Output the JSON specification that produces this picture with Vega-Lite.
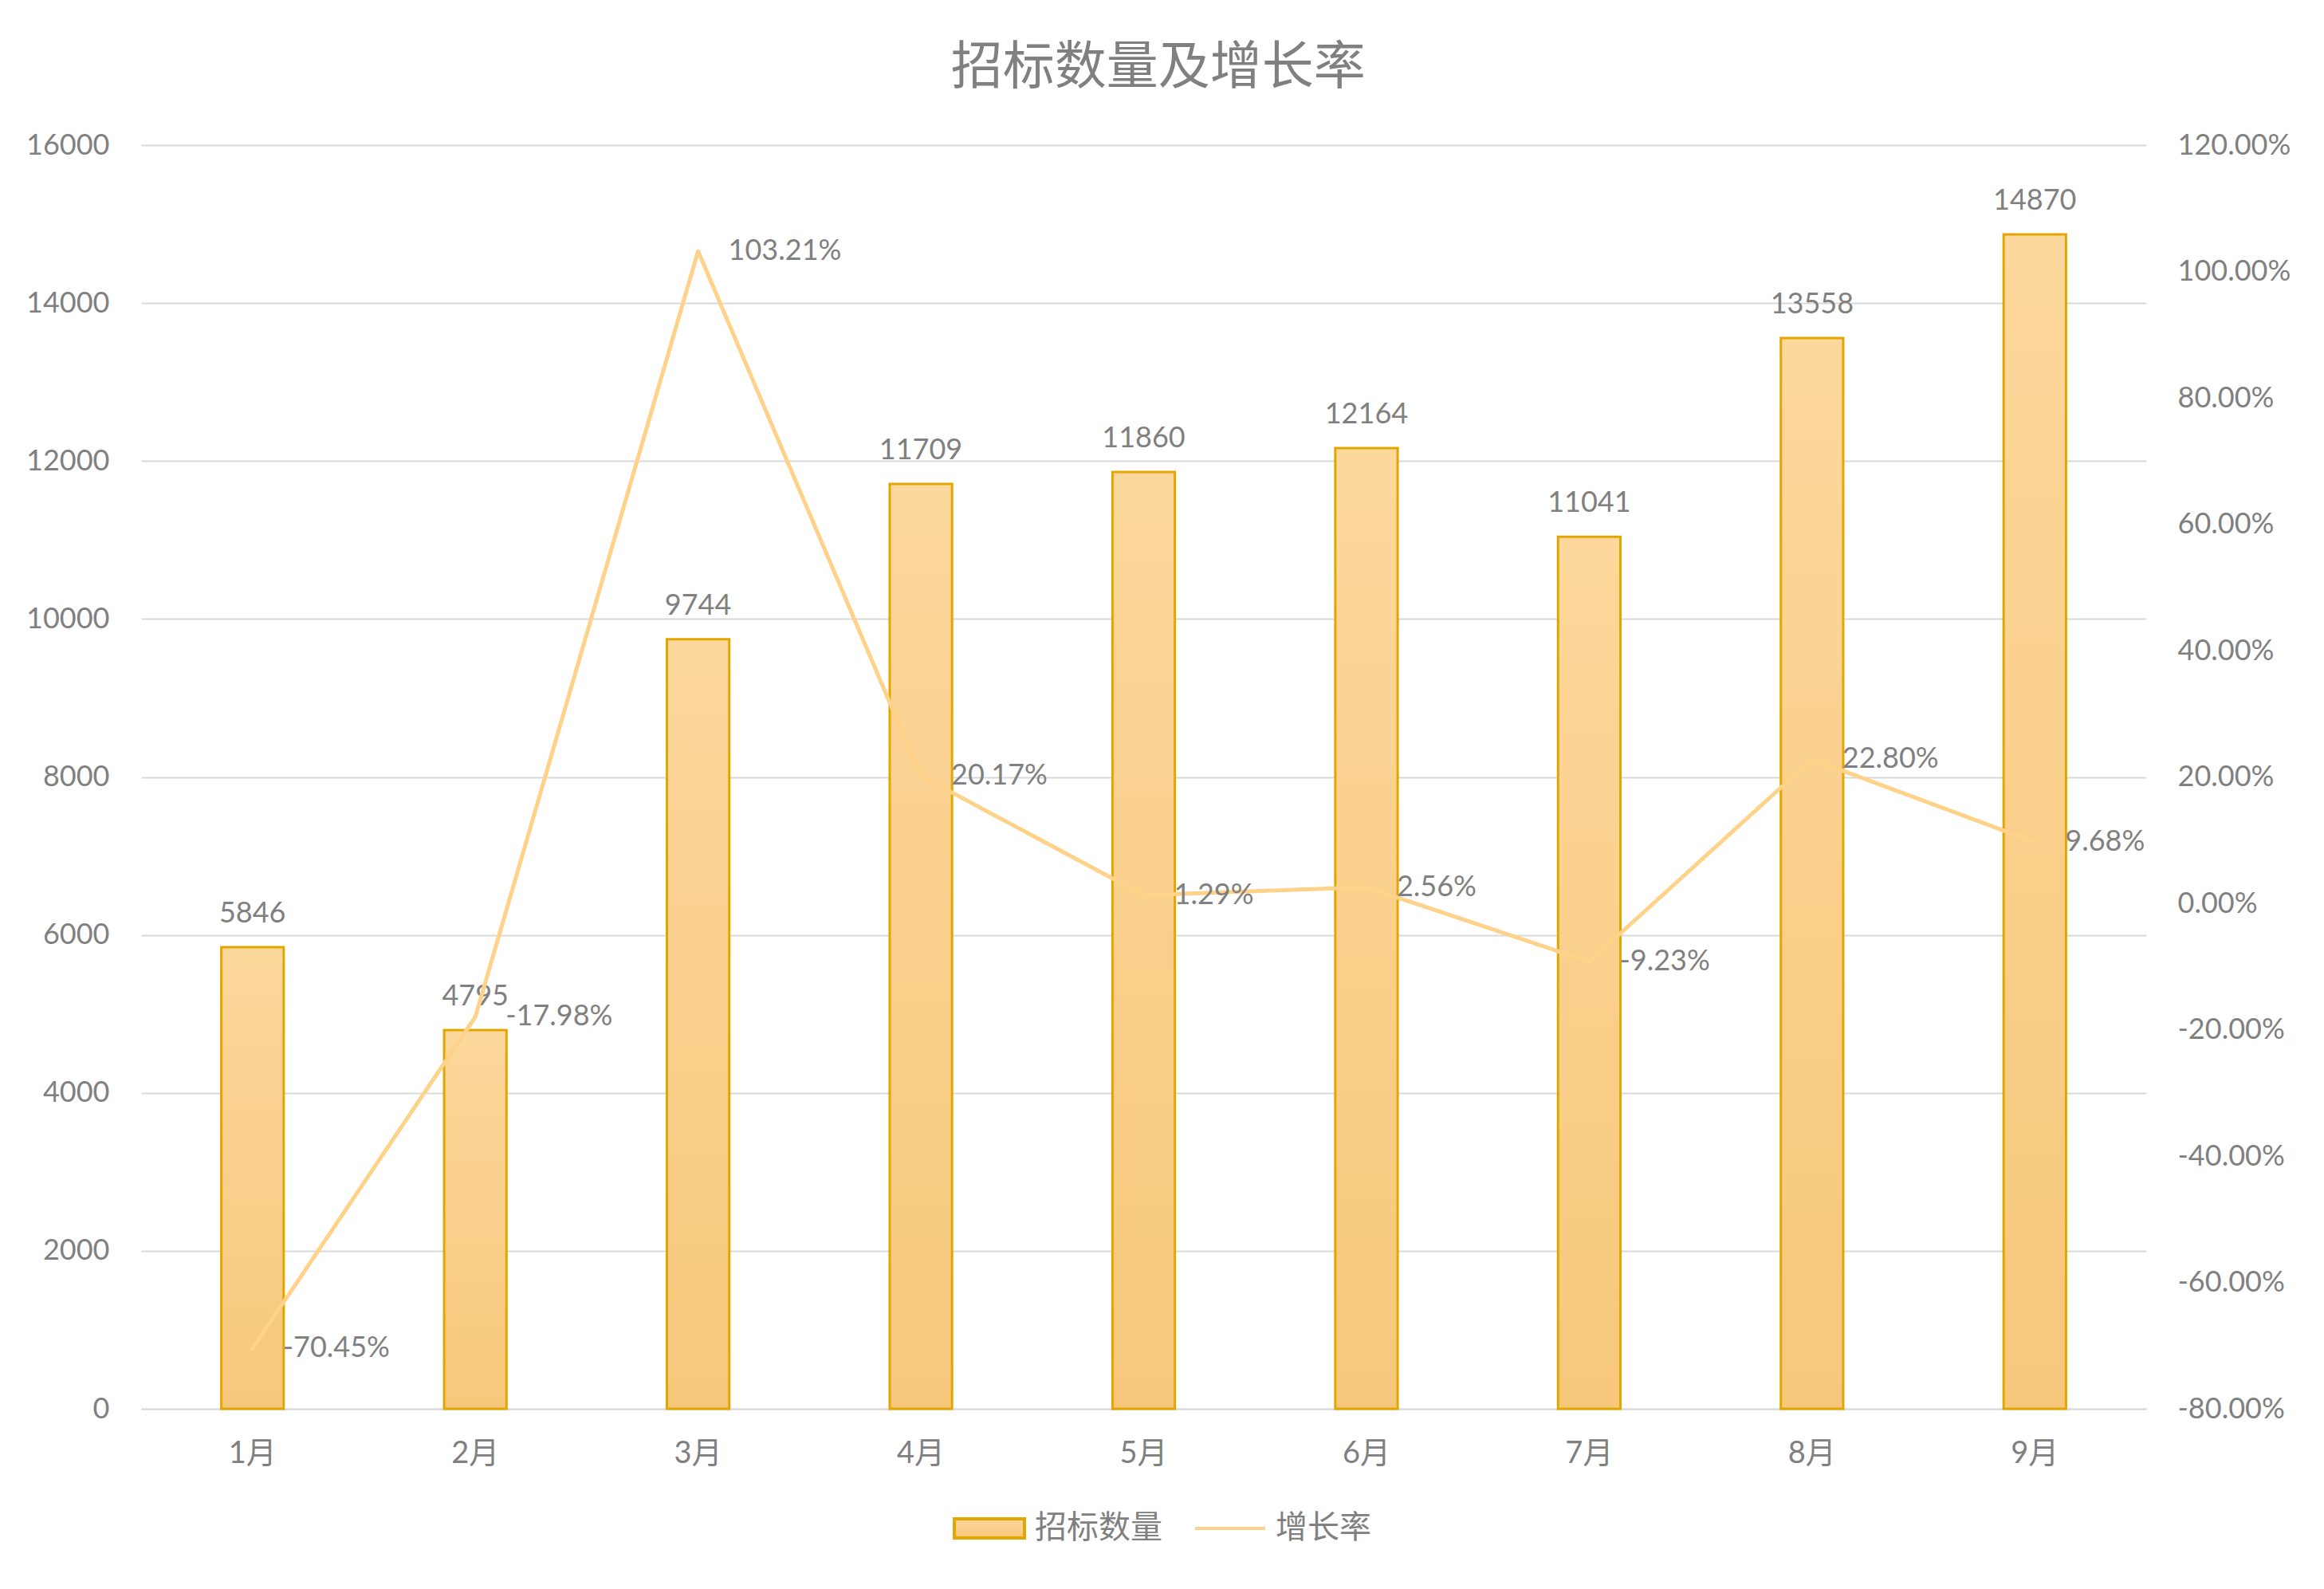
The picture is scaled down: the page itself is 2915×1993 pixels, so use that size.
{
  "$schema": "https://vega.github.io/schema/vega-lite/v6.json",
  "width": 2515,
  "height": 1585,
  "autosize": {"type": "none"},
  "padding": {"left": 177, "top": 182, "right": 223, "bottom": 226},
  "background": "white",
  "title": {
    "text": "招标数量及增长率",
    "fontSize": 65,
    "font": "Noto Sans CJK SC",
    "fontWeight": "normal",
    "color": "#808080",
    "offset": 45,
    "anchor": "middle",
    "frame": "bounds"
  },
  "config": {
    "view": {"stroke": null},
    "font": "Lato",
    "locale": {
      "number": {"decimal": ".", "thousands": ",", "grouping": [3], "currency": ["$", ""], "minus": "-"}
    }
  },
  "data": {
    "values": [
      {"month": "1月", "count": 5846, "rate": -0.7045},
      {"month": "2月", "count": 4795, "rate": -0.1798},
      {"month": "3月", "count": 9744, "rate": 1.0321},
      {"month": "4月", "count": 11709, "rate": 0.2017},
      {"month": "5月", "count": 11860, "rate": 0.0129},
      {"month": "6月", "count": 12164, "rate": 0.0256},
      {"month": "7月", "count": 11041, "rate": -0.0923},
      {"month": "8月", "count": 13558, "rate": 0.228},
      {"month": "9月", "count": 14870, "rate": 0.0968}
    ]
  },
  "encoding": {
    "x": {
      "field": "month",
      "type": "ordinal",
      "sort": null,
      "scale": {"paddingInner": 0.72, "paddingOuter": 0.36},
      "axis": {
        "title": null,
        "labelAngle": 0,
        "labelFont": "Lato, Noto Sans CJK SC",
        "labelFontSize": 38,
        "labelColor": "#808080",
        "labelPadding": 37,
        "ticks": false,
        "domain": true,
        "domainColor": "#D9D9D9",
        "domainWidth": 2
      }
    }
  },
  "layer": [
    {
      "encoding": {
        "y": {
          "field": "count",
          "type": "quantitative",
          "scale": {"domain": [0, 16000], "nice": false},
          "axis": {
            "title": null,
            "values": [0, 2000, 4000, 6000, 8000, 10000, 12000, 14000, 16000],
            "format": "d",
            "grid": true,
            "gridColor": "#D9D9D9",
            "gridWidth": 2,
            "domain": false,
            "ticks": false,
            "labelPadding": 40,
            "labelFontSize": 36,
            "labelColor": "#808080"
          }
        }
      },
      "layer": [
        {
          "mark": {
            "type": "bar",
            "fill": {
              "gradient": "linear",
              "x1": 0, "y1": 0, "x2": 0, "y2": 1,
              "stops": [
                {"offset": 0, "color": "#FDD89C"},
                {"offset": 1, "color": "#F6C77B"}
              ]
            },
            "strokeWidth": 3
          },
          "encoding": {
            "stroke": {
              "datum": "招标数量",
              "type": "nominal",
              "scale": {"domain": ["招标数量", "增长率"], "range": ["#E3A600", "#FFD28A"]},
              "legend": {
                "orient": "none",
                "legendX": 1018,
                "legendY": 1689,
                "direction": "horizontal",
                "title": null,
                "labelFont": "Noto Sans CJK SC",
                "labelFontSize": 40,
                "labelColor": "#808080",
                "symbolSize": 7744,
                "columnPadding": 33,
                "labelOffset": 11,
                "symbolStrokeWidth": 4,
                "symbolType": {"expr": "datum.value === '招标数量' ? 'M-1,-0.27H1V0.27H-1Z' : 'M-1,0H1'"}
              }
            }
          }
        },
        {
          "mark": {"type": "text", "baseline": "middle", "align": "center", "dy": -42, "fontSize": 36, "color": "#808080"},
          "encoding": {
            "text": {"field": "count", "type": "quantitative", "format": "d"}
          }
        }
      ]
    },
    {
      "encoding": {
        "y": {
          "field": "rate",
          "type": "quantitative",
          "scale": {"domain": [-0.8, 1.2], "nice": false},
          "axis": {
            "orient": "right",
            "title": null,
            "values": [-0.8, -0.6, -0.4, -0.2, 0, 0.2, 0.4, 0.6, 0.8, 1, 1.2],
            "format": ".2%",
            "grid": false,
            "domain": false,
            "ticks": false,
            "labelPadding": 39,
            "labelFontSize": 36,
            "labelColor": "#808080"
          }
        }
      },
      "layer": [
        {
          "mark": {"type": "line", "strokeWidth": 5, "strokeCap": "round", "strokeJoin": "round"},
          "encoding": {
            "stroke": {"datum": "增长率", "type": "nominal"}
          }
        },
        {
          "mark": {"type": "text", "baseline": "middle", "align": "left", "dx": 38, "fontSize": 36, "color": "#808080"},
          "encoding": {
            "text": {"field": "rate", "type": "quantitative", "format": ".2%"}
          }
        }
      ]
    }
  ],
  "resolve": {"scale": {"y": "independent"}}
}
